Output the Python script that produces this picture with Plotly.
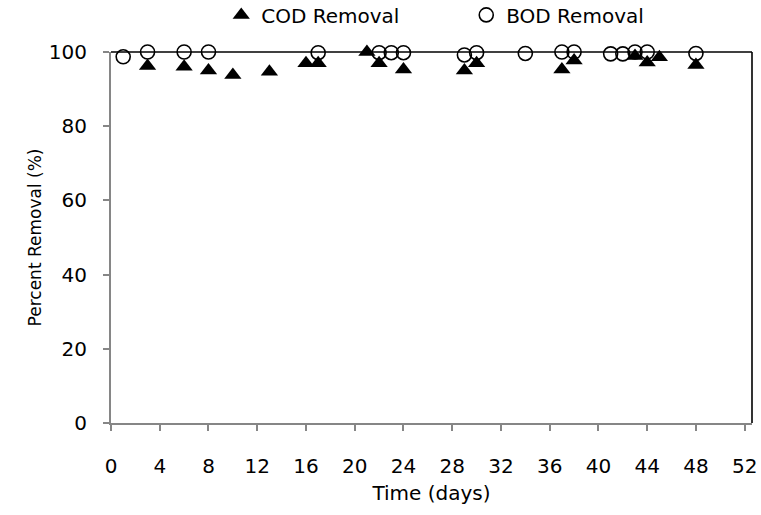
import plotly.graph_objects as go

cod_days = [3, 6, 8, 10, 13, 16, 17, 21, 22, 24, 29, 30, 37, 38, 43, 44, 45, 48]
cod_removal = [96.2, 96.0, 95.0, 93.8, 94.7, 97.0, 97.0, 100.0, 97.0, 95.3,
               95.0, 97.0, 95.3, 97.7, 98.9, 97.2, 98.6, 96.5]

bod_days = [1, 3, 6, 8, 17, 22, 23, 24, 29, 30, 34, 37, 38, 41, 42, 43, 44, 48]
bod_removal = [98.7, 100.0, 100.0, 100.0, 99.8, 99.8, 99.8, 99.8, 99.2, 99.8,
               99.6, 100.0, 100.0, 99.5, 99.5, 100.0, 100.0, 99.6]

x_ticks = [0, 4, 8, 12, 16, 20, 24, 28, 32, 36, 40, 44, 48, 52]
y_ticks = [0, 20, 40, 60, 80, 100]

FONT = "DejaVu Sans"
AX = "#868686"

fig = go.Figure()
fig.add_trace(go.Scatter(
    x=cod_days, y=cod_removal, mode="markers", name="COD Removal",
    marker=dict(symbol="triangle-up", size=15, color="black"),
    cliponaxis=False,
))
fig.add_trace(go.Scatter(
    x=bod_days, y=bod_removal, mode="markers", name="BOD Removal",
    marker=dict(symbol="circle-open", size=14, color="black", line=dict(width=1.6, color="black")),
    cliponaxis=False,
))

# plot-area border (top and right, black)
fig.add_shape(type="line", xref="paper", yref="paper", x0=0, x1=1, y0=1, y1=1,
              line=dict(color="black", width=1.6), layer="below")
fig.add_shape(type="line", xref="paper", yref="paper", x0=1, x1=1, y0=0, y1=1,
              line=dict(color="black", width=1.6), layer="below")

fig.update_layout(
    width=761, height=515,
    margin=dict(l=111, r=9, t=52, b=92, autoexpand=False),
    paper_bgcolor="white", plot_bgcolor="white",
    font=dict(family=FONT, size=20, color="black"),
    showlegend=True,
    legend=dict(orientation="h", x=0.172, y=1.1, xanchor="left", yanchor="middle",
                font=dict(family=FONT, size=20, color="black"),
                bgcolor="rgba(0,0,0,0)", entrywidth=200, itemwidth=30,
                tracegroupgap=0),
)
fig.update_xaxes(
    range=[0, 52.6], tickvals=x_ticks, ticktext=[str(v) for v in x_ticks],
    showgrid=False, zeroline=False, showline=True, linecolor=AX, linewidth=2,
    ticks="outside", tickcolor=AX, ticklen=6, tickwidth=1.5,
    ticklabelstandoff=18, tickfont=dict(family=FONT, size=20),
    title=dict(text="Time (days)", font=dict(family=FONT, size=20), standoff=9),
)
fig.update_yaxes(
    range=[0, 100], tickvals=y_ticks, ticktext=[str(v) for v in y_ticks],
    showgrid=False, zeroline=False, showline=True, linecolor=AX, linewidth=2,
    ticks="outside", tickcolor=AX, ticklen=6, tickwidth=1.5,
    ticklabelstandoff=12, tickfont=dict(family=FONT, size=20),
    title=dict(text="Percent Removal (%)", font=dict(family=FONT, size=17), standoff=3),
)

fig.write_html("out.html")
